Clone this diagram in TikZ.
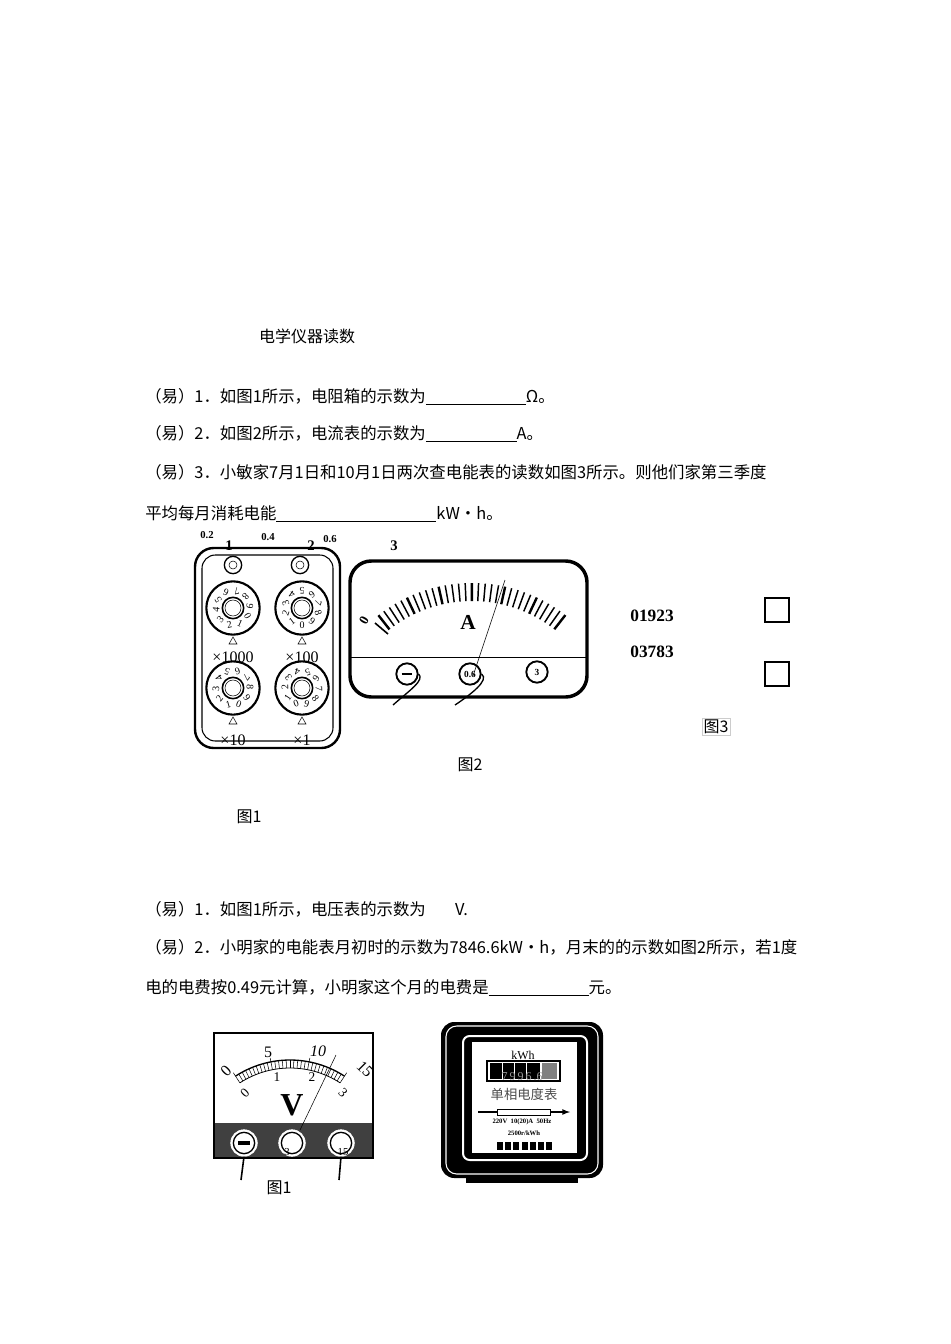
\documentclass[tikz,border=0pt]{standalone}
\usepackage{fontspec}
\setmainfont{Liberation Serif}
\newfontfamily\cjk{Noto Sans CJK SC}
\usetikzlibrary{calc}
\begin{document}
\begin{tikzpicture}[x=0.75pt,y=-0.75pt,
 txt/.style={anchor=west,inner sep=0,font=\fontsize{12.3}{14}\selectfont},
 lbl/.style={inner sep=0,font=\fontsize{12}{14}\selectfont},
 bl/.style={inner sep=0,font=\bfseries\fontsize{8}{9}\selectfont},
 knob/.style={draw,line width=1.6pt,circle,minimum size=40pt,inner sep=0},
 term/.style={draw,line width=1.4pt,circle,minimum size=16pt,inner sep=0,font=\bfseries\fontsize{7}{8}\selectfont}]
\useasboundingbox (0,0) rectangle (950,1344);
\node[lbl] (title) at (307,336) {\cjk 电学仪器读数};
\node[txt] (q1) at (145,397) {\cjk （易）1．如图1所示，电阻箱的示数为\underline{\hspace{75pt}}Ω。};
\node[txt] (q2) at (145,434) {\cjk （易）2．如图2所示，电流表的示数为\underline{\hspace{68pt}}A。};
\node[txt] (q3) at (145,472) {\cjk （易）3．小敏家7月1日和10月1日两次查电能表的读数如图3所示。则他们家第三季度};
\node[txt] (q4) at (145,514) {\cjk 平均每月消耗电能\underline{\hspace{120pt}}kW·h。};
% resistance box
\draw[line width=1.8pt,rounded corners=14pt] (195,548) rectangle (340,748);
\draw[line width=0.8pt,rounded corners=10pt] (202,555) rectangle (333,741);
\foreach \x/\n in {233/a,300/b}{\node[draw,line width=1pt,circle,minimum size=13pt,inner sep=0] (s\n) at (\x,565){};\node[draw,circle,minimum size=6pt,inner sep=0] at (\x,565){};}
\foreach \x/\y/\n/\o in {233/608/k1/60,302/608/k2/0,233/688/k3/20,302/688/k4/-20}{
 \node[knob] (\n) at (\x,\y){};
 \node[draw,circle,line width=1.2pt,minimum size=16pt,inner sep=0] at (\x,\y){};
 \node[draw,circle,minimum size=12pt,inner sep=0] at (\x,\y){};
 \foreach \d in {0,...,9}{\pgfmathsetmacro\ang{-90-\d*36+\o}\node[inner sep=0,font=\fontsize{7.5}{8}\selectfont,rotate=-\ang-90] at ($(\x,\y)+(-\ang:17)$) {\d};}
 \draw (\x-4,\y+36)--(\x+4,\y+36)--(\x,\y+29)--cycle;}
\node[lbl] at (233,657) {×1000};
\node[lbl] at (302,657) {×100};
\node[lbl] at (233,740) {×10};
\node[lbl] at (302,740) {×1};
\node[bl] at (207,535) {0.2};
\node[lbl,font=\bfseries\fontsize{11}{12}\selectfont] at (229,546) {1};
\node[bl] at (268,537) {0.4};
\node[lbl,font=\bfseries\fontsize{11}{12}\selectfont] at (311,546) {2};
\node[bl] at (330,539) {0.6};
% ammeter
\draw[line width=2.6pt,rounded corners=16pt] (350,561) rectangle (587,697);
\draw (350,657)--(587,657);
\node[lbl,font=\bfseries\fontsize{11}{12}\selectfont] at (394,546) {3};
\foreach \i in {0,...,30}{\pgfmathsetmacro\a{-128+\i*2.53}
 \pgfmathsetmacro\w{ifthenelse(mod(\i,5)==0,1.8,1.1)}
 \draw[line width=\w pt] ($(472,735)+(\a:134)$)--($(472,735)+(\a:152)$);}
\node[lbl,font=\bfseries\fontsize{10}{12}\selectfont,rotate=60] at (364,620) {0};
\draw[line width=1.2pt] (375,623)--(388,634);
\node[lbl,font=\bfseries\fontsize{16}{18}\selectfont] at (468,622) {A};
\draw (473,676)--(505,580);
\node[term] (tm) at (407,674) {\rule{8pt}{2pt}};
\node[term] (t6) at (470,674) {0.6};
\node[term] (t3) at (537,672) {3};
\draw[line width=1pt] (393,705) .. controls (410,690) and (425,680) .. (tm.east);
\draw[line width=1pt] (455,705) .. controls (470,695) and (490,680) .. (t6.east);
% figure 3
\node[lbl,font=\bfseries\fontsize{13}{14}\selectfont] (r1) at (652,616) {01923};
\node[lbl,font=\bfseries\fontsize{13}{14}\selectfont] (r2) at (652,652) {03783};
\draw[line width=0.8pt] (765,598) rectangle (789,622);
\draw[line width=0.8pt] (765,662) rectangle (789,686);
\node[lbl,draw=gray!40,inner sep=1pt] at (716,727) {\cjk 图3};
\node[lbl] at (470,765) {\cjk 图2};
\node[lbl] at (249,817) {\cjk 图1};
% second section
\node[txt] at (145,909) {\cjk （易）1．如图1所示，电压表的示数为\hspace{22pt}V.};
\node[txt] at (145,947) {\cjk （易）2．小明家的电能表月初时的示数为7846.6kW•h，月末的的示数如图2所示，若1度};
\node[txt] at (145,988) {\cjk 电的电费按0.49元计算，小明家这个月的电费是\underline{\hspace{75pt}}元。};
% voltmeter
\fill[black!75] (214,1123) rectangle (373,1158);
\draw[line width=1.2pt] (214,1033) rectangle (373,1158);
\draw[line width=1pt] ($(290,1160)+(-123:100)$) arc (-123:-57:100);
\draw[line width=0.6pt] ($(290,1160)+(-123:92)$) arc (-123:-57:92);
\foreach \i in {0,...,30}{\pgfmathsetmacro\a{-123+\i*2.2}\draw ($(290,1160)+(\a:92)$)--($(290,1160)+(\a:100)$);}
\foreach \i in {0,10,20,30}{\pgfmathsetmacro\a{-123+\i*2.2}\draw ($(290,1160)+(\a:100)$)--($(290,1160)+(\a:104)$);}
\node[lbl,rotate=45] at (226,1071) {0};
\node[lbl] at (268,1052) {5};
\node[lbl] at (318,1051) {\itshape 10};
\node[lbl,rotate=-45] at (365,1069) {15};
\node[lbl,rotate=45,font=\fontsize{10}{12}\selectfont] at (245,1093) {0};
\node[lbl,font=\fontsize{10}{12}\selectfont] at (277,1077) {1};
\node[lbl,font=\fontsize{10}{12}\selectfont] at (312,1077) {2};
\node[lbl,rotate=-45,font=\fontsize{10}{12}\selectfont] at (343,1093) {3};
\node[lbl,font=\bfseries\fontsize{24}{26}\selectfont] at (292,1105) {V};
\draw (300,1130)--(336,1055);
\foreach \x/\n in {244/v1,292/v2,341/v3}{\node[draw=white,fill=white,circle,minimum size=20pt,inner sep=0] (\n) at (\x,1143){};\node[draw,line width=1pt,circle,minimum size=16pt,inner sep=0] at (\x,1143){};}
\draw[line width=2.5pt] (238,1143)--(250,1143);
\node[lbl,font=\fontsize{8}{9}\selectfont] at (287,1152) {3};
\node[lbl,font=\fontsize{8}{9}\selectfont] at (343,1152) {15};
\coordinate (w1) at (241,1180); \coordinate (w2) at (339,1180);
\draw[line width=1.2pt] (v1.south)--(w1);
\draw[line width=1.2pt] (v3.south)--(w2);
\node[lbl] at (279,1188) {\cjk 图1};
% energy meter
\fill[black] (466,1172) rectangle (578,1183);
\fill[black,rounded corners=10pt] (441,1022) rectangle (603,1178);
\draw[white,line width=0.8pt,rounded corners=8pt] (446,1026) rectangle (598,1174);
\draw[white,line width=1.5pt,rounded corners=5pt] (463,1036) rectangle (587,1160);
\fill[white] (472,1042) rectangle (577,1153);
\node[lbl,font=\fontsize{9}{10}\selectfont] at (523,1055) {kWh};
\draw[line width=1pt] (487,1061) rectangle (560,1081);
\fill[black] (490,1063) rectangle (540,1079);
\fill[black!50] (542,1063) rectangle (557,1079);
\foreach \x in {502,514,526}{\draw[white,line width=0.3pt] (\x,1063)--(\x,1079);}
\node[lbl,font=\fontsize{9}{10}\selectfont,text=black!40] at (522,1077) {7\,9\,9\,6\,.6};
\node[lbl,font=\fontsize{10}{12}\selectfont,text=black!70] at (524,1094) {\cjk 单相电度表};
\draw[-latex,line width=1pt] (478,1112)--(570,1112);
\draw[fill=white] (497,1109) rectangle (550,1115);
\node[lbl,font=\bfseries\fontsize{5}{6}\selectfont] at (522,1122) {220V\ \ 10(20)A\ \ 50Hz};
\node[lbl,font=\bfseries\fontsize{5}{6}\selectfont] at (524,1133) {2500r/kWh};
\foreach \i in {0,...,6}{\fill (497+\i*8.2,1142) rectangle ++(6,8);}
\end{tikzpicture}
\end{document}
